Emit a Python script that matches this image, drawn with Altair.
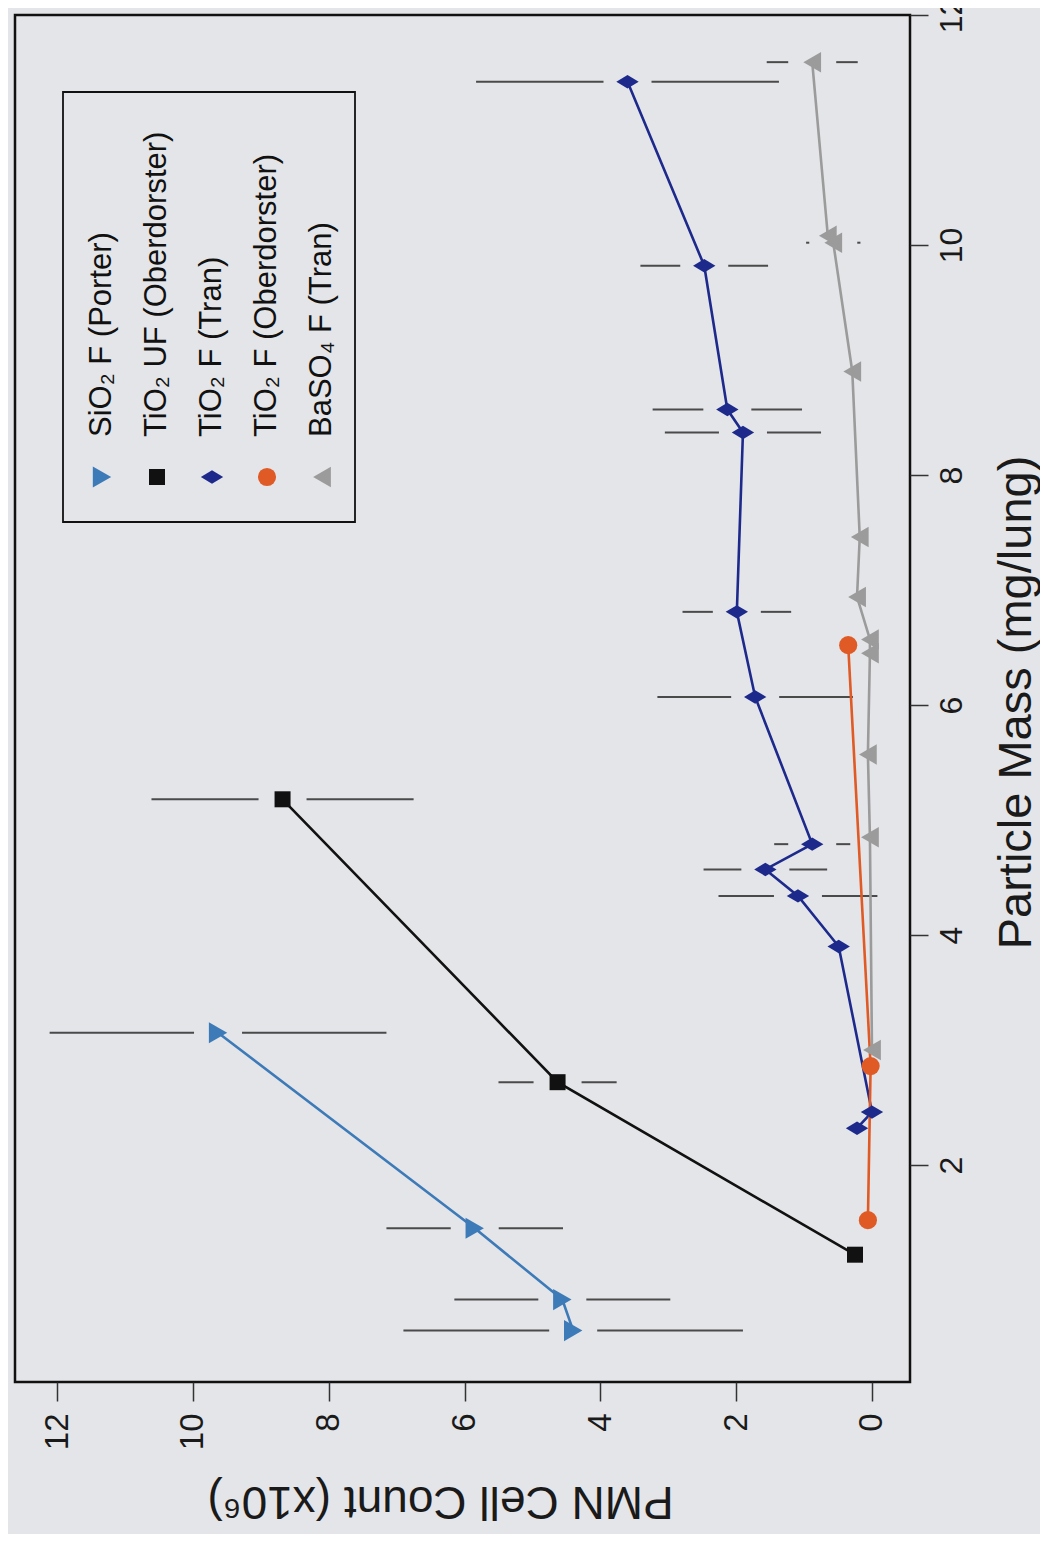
import altair as alt
import pandas as pd

# ---- series definitions ----
SERIES = ["SiO₂  F (Porter)", "TiO₂  UF (Oberdorster)", "TiO₂  F (Tran)",
          "TiO₂  F (Oberdorster)", "BaSO₄  F (Tran)"]
COLORS = ["#3d7ab8", "#111111", "#1d2a8c", "#df5a25", "#9b9b9b"]
SHAPES = ["triangle-right", "square", "M-1,0L0,-0.6L1,0L0,0.6Z", "circle", "triangle-left"]
SIZES = [450, 256, 500, 330, 420]

# ---- data (mass in mg/lung, PMN x10^6, err = +/- bar) ----
sio2_mass = [0.56, 0.83, 1.45, 3.15]
sio2_pmn = [4.40, 4.56, 5.85, 9.63]
sio2_err = [2.50, 1.59, 1.30, 2.48]

tio2uf_mass = [1.22, 2.72, 5.18]
tio2uf_pmn = [0.25, 4.63, 8.68]
tio2uf_err = [0.0, 0.87, 1.93]

tio2tran_mass = [2.32, 2.46, 3.90, 4.34, 4.57, 4.79, 6.07, 6.81, 8.37, 8.57, 9.82, 11.42]
tio2tran_pmn = [0.22, 0.00, 0.49, 1.09, 1.57, 0.88, 1.72, 1.99, 1.90, 2.13, 2.47, 3.60]
tio2tran_err = [0.0, 0.0, 0.0, 1.17, 0.91, 0.56, 1.44, 0.80, 1.15, 1.10, 0.94, 2.23]

tio2ober_mass = [1.52, 2.86, 6.52]
tio2ober_pmn = [0.06, 0.02, 0.35]
tio2ober_err = [0.0, 0.0, 0.0]

baso4_mass = [3.00, 4.85, 5.57, 6.45, 6.57, 6.94, 7.46, 8.90, 10.02, 10.08, 11.59]
baso4_pmn = [0.00, 0.03, 0.06, 0.03, 0.03, 0.22, 0.18, 0.29, 0.57, 0.65, 0.88]
baso4_err = [0, 0, 0, 0, 0, 0, 0, 0, 0.40, 0.0, 0.67]

MASS_TICKS = [2, 4, 6, 8, 10, 12]
PMN_TICKS = [0, 2, 4, 6, 8, 10, 12]

rows = []
for name, m, p, e in [
    (SERIES[0], sio2_mass, sio2_pmn, sio2_err),
    (SERIES[1], tio2uf_mass, tio2uf_pmn, tio2uf_err),
    (SERIES[2], tio2tran_mass, tio2tran_pmn, tio2tran_err),
    (SERIES[3], tio2ober_mass, tio2ober_pmn, tio2ober_err),
    (SERIES[4], baso4_mass, baso4_pmn, baso4_err),
]:
    for mi, pi, ei in zip(m, p, e):
        rows.append({"series": name, "mass": mi, "pmn": pi, "err": ei})
df = pd.DataFrame(rows)

FONT = "Liberation Sans"
color_enc = alt.Color("series:N", scale=alt.Scale(domain=SERIES, range=COLORS), legend=None)
shape_enc = alt.Shape("series:N", scale=alt.Scale(domain=SERIES, range=SHAPES), legend=None)
size_enc = alt.Size("series:N", scale=alt.Scale(type="ordinal", domain=SERIES, range=SIZES), legend=None)

x_enc = alt.X(
    "pmn:Q",
    scale=alt.Scale(domain=[-0.56, 12.62], reverse=True, nice=False, zero=False),
    axis=alt.Axis(
        orient="bottom", values=PMN_TICKS, title="PMN Cell Count (x10⁶)",
        labelAngle=270, labelAlign="right", labelBaseline="middle",
        labelFontSize=33, labelPadding=12, labelColor="#1a1a1a",
        tickSize=19, tickWidth=1.5, tickColor="#333333", domain=False, grid=False,
        titleAngle=180, titleBaseline="alphabetic", titleFontSize=46,
        titleFontWeight="normal", titleColor="#1a1a1a", titlePadding=37, titleX=425,
    ),
)
y_enc = alt.Y(
    "mass:Q",
    scale=alt.Scale(domain=[0.113, 12.0], nice=False, zero=False),
    axis=alt.Axis(
        orient="right", values=MASS_TICKS, title="Particle Mass (mg/lung)",
        labelAngle=270, labelAlign="center", labelBaseline="top",
        labelFontSize=32, labelPadding=8, labelColor="#1a1a1a",
        tickSize=18, tickWidth=1.5, tickColor="#333333", domain=False, grid=False,
        titleAngle=270, titleBaseline="top", titleFontSize=47,
        titleFontWeight="normal", titleColor="#1a1a1a", titlePadding=26, titleY=687,
    ),
)

base = alt.Chart(df)
errs = base.transform_filter("datum.err > 0").transform_calculate(
    hi="datum.pmn + datum.err", lo="datum.pmn - datum.err"
)
err_hi = errs.mark_rule(color="#4a4a4a", strokeWidth=2, xOffset=-24).encode(
    x=x_enc, x2="hi:Q", y=y_enc
)
err_lo = errs.mark_rule(color="#4a4a4a", strokeWidth=2, xOffset=24).encode(
    x=x_enc, x2="lo:Q", y=y_enc
)
lines = base.mark_line(strokeWidth=2.6).encode(
    x=x_enc, y=y_enc, color=color_enc, order="mass:Q"
)
points = base.mark_point(filled=True, opacity=1).encode(
    x=x_enc, y=y_enc, color=color_enc, shape=shape_enc, size=size_enc
)
main = alt.layer(err_hi, err_lo, lines, points)

# ---- custom rotated legend ----
leg_df = pd.DataFrame({"series": SERIES})
leg_x = alt.X("series:N", scale=alt.Scale(type="point", domain=SERIES, range=[87, 307], padding=0), axis=None)
leg_box = alt.Chart(pd.DataFrame({"k": [0]})).mark_rect(
    fillOpacity=0, stroke="#111111", strokeWidth=1.8
).encode(x=alt.value(48), x2=alt.value(340), y=alt.value(77), y2=alt.value(507))
leg_sym = alt.Chart(leg_df).mark_point(filled=True, opacity=1).encode(
    x=leg_x, y=alt.value(462), color=color_enc, shape=shape_enc, size=size_enc
)
leg_txt = alt.Chart(leg_df).mark_text(
    angle=270, align="left", baseline="middle", fontSize=31, font=FONT, color="#111111"
).encode(x=leg_x, y=alt.value(422), text="series:N")
legend = alt.layer(leg_box, leg_sym, leg_txt)

chart = alt.layer(main, legend).resolve_scale(x="independent").properties(
    width=895, height=1367,
    autosize=alt.AutoSizeParams(type="none"),
    padding={"left": 7, "top": 7, "right": 130, "bottom": 152},
    background="#e4e5e8",
).configure(font=FONT).configure_view(stroke="#111111", strokeWidth=2.5)

chart.save("out.html", embed_options={"renderer": "svg", "actions": False})
